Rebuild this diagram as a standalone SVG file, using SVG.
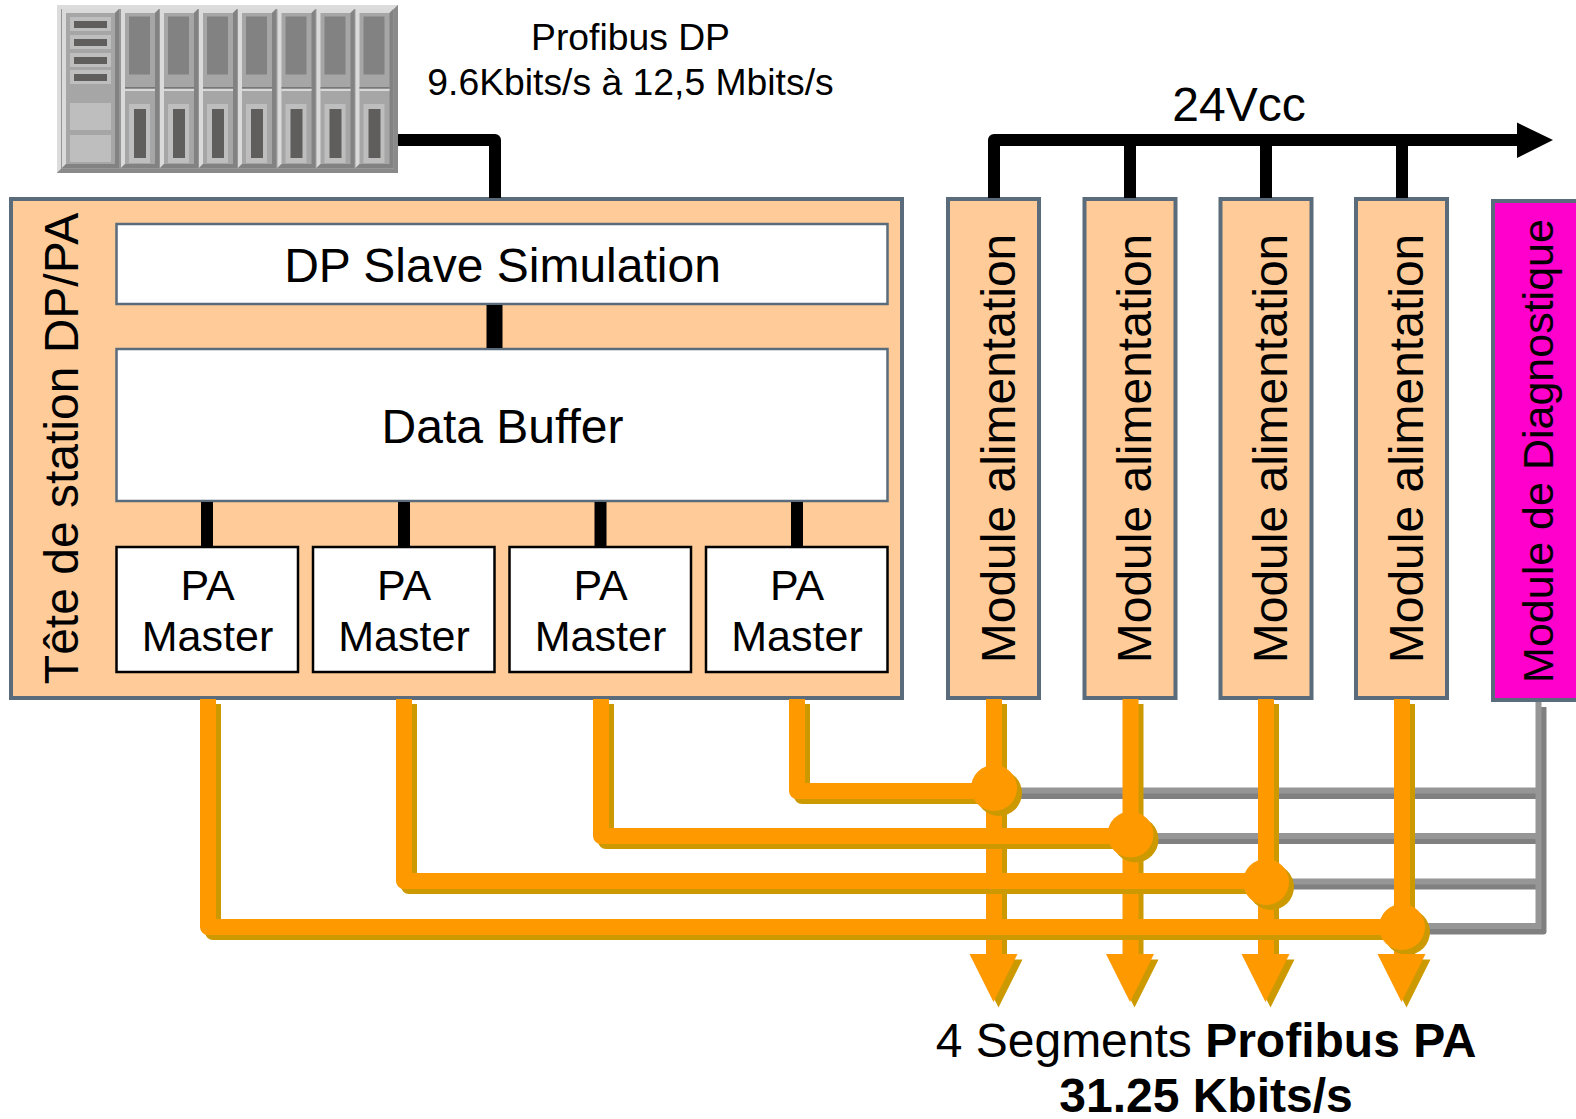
<svg xmlns="http://www.w3.org/2000/svg" xmlns:xlink="http://www.w3.org/1999/xlink" width="1576" height="1119" viewBox="0 0 1576 1119">
<style>
text{font-family:"Liberation Sans",Arial,sans-serif;fill:#000;text-anchor:middle}
.peach{fill:#FFCC99;stroke:#5A6B7B;stroke-width:4}
.white{fill:#fff;stroke:#5A6B7B;stroke-width:2.5}
.pa{fill:#fff;stroke:#000;stroke-width:2.5}
.blk{fill:none;stroke:#000;stroke-width:12;stroke-linejoin:round}
.or{fill:none;stroke:#FF9900;stroke-width:16;stroke-linejoin:round}
.ors{fill:none;stroke:#CC9900;stroke-width:16;stroke-linejoin:round}
.gr{fill:none;stroke:#969696;stroke-width:6;stroke-linejoin:round}
.grs{fill:none;stroke:#808080;stroke-width:6;stroke-linejoin:round}
.t37{font-size:37.3px}.t43{font-size:43px}.t48{font-size:48px}
</style>
<defs>
<g id="slot">
<rect x="0" y="0" width="38" height="159" fill="#A6A6A6"/>
<path d="M0 0H38L34 4H4V155L0 159Z" fill="#DADADA"/>
<path d="M38 0V159H0L4 155H34V4Z" fill="#828282"/>
<rect x="8" y="7.500" width="21" height="58" fill="#828282"/>
<rect x="4" y="78" width="30" height="1.800" fill="#777"/>
<rect x="4" y="79.800" width="30" height="2.200" fill="#D8D8D8"/>
<rect x="8" y="95" width="21" height="59" fill="#BEBEBE"/>
<rect x="13" y="100" width="12" height="49" fill="#5F5E5C"/>
</g>
<path id="head" d="M969.500 954H1017.500L993.500 1002Z"/>
</defs>

<g id="server">
<rect x="57" y="5" width="341" height="168" fill="#969696"/>
<path d="M57 5H398L394 9H61V169L57 173Z" fill="#DCDCDC"/>
<path d="M398 5V173H57L61 169H394V9Z" fill="#8A8A8A"/>
<rect x="62" y="9" width="57" height="159" fill="#A6A6A6"/>
<path d="M62 9H119L115 13H66V164L62 168Z" fill="#DADADA"/>
<path d="M119 9V168H62L66 164H115V13Z" fill="#828282"/>
<g fill="#BEBEBE">
<rect x="70" y="17" width="41" height="14"/><rect x="70" y="35" width="41" height="14"/><rect x="70" y="53" width="41" height="14"/><rect x="70" y="70" width="41" height="14"/>
<rect x="70" y="103" width="41" height="27"/><rect x="70" y="135" width="41" height="27"/>
</g>
<g fill="#5F5E5C">
<rect x="74" y="21" width="33" height="7"/><rect x="74" y="39" width="33" height="7"/><rect x="74" y="57" width="33" height="7"/><rect x="74" y="74" width="33" height="7"/>
</g>
<use href="#slot" x="121" y="9"/><use href="#slot" x="160" y="9"/><use href="#slot" x="199" y="9"/><use href="#slot" x="238" y="9"/><use href="#slot" x="277.500" y="9"/><use href="#slot" x="316.500" y="9"/><use href="#slot" x="355.500" y="9"/>
</g>

<g id="label-dp">
<text class="t37" x="630.500" y="50">Profibus DP</text>
<text class="t37" x="630.500" y="95">9.6Kbits/s à 12,5 Mbits/s</text>
</g>
<text id="label-24v" class="t48" x="1239" y="121">24Vcc</text>

<g id="station">
<rect class="peach" x="11" y="199" width="891" height="499"/>
<text class="t48" transform="translate(77.500 448.500) rotate(-90)">Tête de station DP/PA</text>
</g>
<g id="dp-slave"><rect class="white" x="116.500" y="224" width="771" height="80"/><text class="t48" x="502.500" y="282">DP Slave Simulation</text></g>
<g id="data-buffer"><rect class="white" x="116.500" y="349" width="771" height="152"/><text class="t48" x="502.500" y="443">Data Buffer</text></g>
<g id="pa1"><rect class="pa" x="116.500" y="547" width="181.500" height="125"/><text class="t43" x="207.500" y="600">PA</text><text class="t43" x="207.500" y="651">Master</text></g>
<g id="pa2"><rect class="pa" x="313" y="547" width="181.500" height="125"/><text class="t43" x="404" y="600">PA</text><text class="t43" x="404" y="651">Master</text></g>
<g id="pa3"><rect class="pa" x="509.500" y="547" width="181.500" height="125"/><text class="t43" x="600.500" y="600">PA</text><text class="t43" x="600.500" y="651">Master</text></g>
<g id="pa4"><rect class="pa" x="706" y="547" width="181.500" height="125"/><text class="t43" x="797" y="600">PA</text><text class="t43" x="797" y="651">Master</text></g>

<g id="mod1"><rect class="peach" x="948" y="199" width="91" height="499"/><text class="t48" transform="translate(1014.500 448.500) rotate(-90)">Module alimentation</text></g>
<g id="mod2"><rect class="peach" x="1084.500" y="199" width="91" height="499"/><text class="t48" transform="translate(1150.500 448.500) rotate(-90)">Module alimentation</text></g>
<g id="mod3"><rect class="peach" x="1220.500" y="199" width="91" height="499"/><text class="t48" transform="translate(1286.500 448.500) rotate(-90)">Module alimentation</text></g>
<g id="mod4"><rect class="peach" x="1356" y="199" width="91" height="499"/><text class="t48" transform="translate(1422.500 448.500) rotate(-90)">Module alimentation</text></g>
<g id="diag"><rect x="1493" y="201" width="90" height="499" fill="#FF00CC" stroke="#5A6B7B" stroke-width="4"/><text class="t43" transform="translate(1553 451) rotate(-90)">Module de Diagnostique</text></g>

<g id="connectors">
<path class="blk" d="M398 140H495V198"/>
<path class="blk" d="M994 198V140H1518"/>
<path class="blk" d="M1130 198V140M1266 198V140M1402 198V140"/>
<path d="M1517 122.500L1553 140L1517 158Z" fill="#000"/>
<path class="blk" style="stroke-width:16" d="M494.500 305V348"/>
<path class="blk" d="M207 502V546M404 502V546M600.500 502V546M797 502V546"/>

<g>
<path class="grs" d="M1543.500 707V931.500H1020"/><path class="grs" d="M1020 796H1543.500M1150 841H1543.500M1290 886.500H1543.500"/>
<path class="gr" d="M1538.500 702V926H1020"/><path class="gr" d="M1020 790.500H1538.500M1150 836H1538.500M1290 881.500H1538.500"/>
</g>

<path class="ors" d="M999 704V959M1135.500 704V959M1271 704V959M1407 704V959"/>
<path class="or" d="M994 699V955M1130.500 699V955M1266 699V955M1402 699V955"/>

<path class="ors" d="M213 704V932H1402M409 704V886H1266M606 704V841H1130M802 704V796H994"/>
<path class="or" d="M208 699V927H1402M404 699V881H1266M601 699V836H1130M797 699V791H994"/>

<g fill="#CC9900">
<circle cx="999" cy="793" r="23"/><circle cx="1135.500" cy="839.500" r="23"/><circle cx="1271" cy="887" r="23"/><circle cx="1407" cy="932" r="23"/>
<use href="#head" x="5" y="5.500"/><use href="#head" x="141" y="5.500"/><use href="#head" x="277" y="5.500"/><use href="#head" x="413" y="5.500"/>
</g>
<g fill="#FF9900">
<circle cx="994" cy="788" r="23"/><circle cx="1130.500" cy="834.500" r="23"/><circle cx="1266" cy="882" r="23"/><circle cx="1402" cy="927" r="23"/>
<use href="#head"/><use href="#head" x="136.500"/><use href="#head" x="272"/><use href="#head" x="408"/>
</g>
</g>

<g id="label-pa">
<text class="t48" x="1206" y="1057">4 Segments <tspan font-weight="bold">Profibus PA</tspan></text>
<text class="t48" font-weight="bold" x="1206" y="1112">31.25 Kbits/s</text>
</g>
</svg>
